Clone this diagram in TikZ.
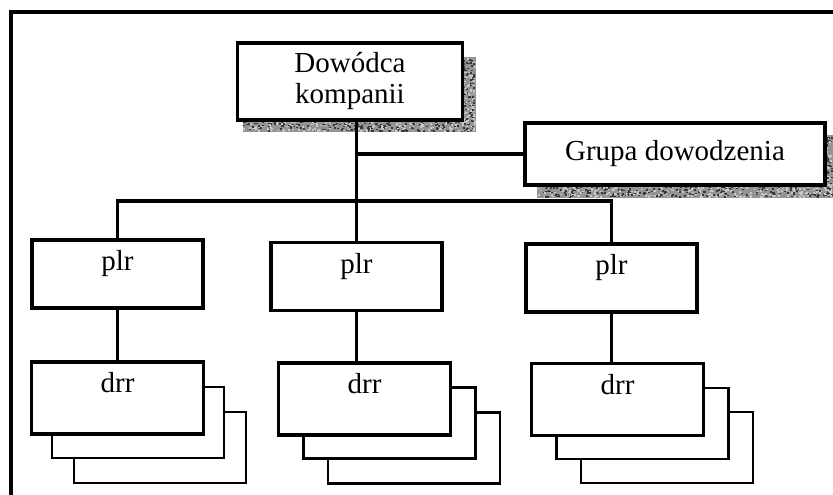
\documentclass[tikz,border=0pt]{standalone}
\usepackage{fontspec}
\setmainfont{Liberation Serif}

% random grey specks that give the drop shadows their grainy look
\newcommand\shadespecks[5]{%
  \foreach \k in {1,...,#5}{%
    \pgfmathsetmacro\sx{#1+rnd*(#3-#1-2)}%
    \pgfmathsetmacro\sy{#2+rnd*(#4-#2-1.5)}%
    \pgfmathsetmacro\sg{rnd<0.5 ? 22 : 78}%
    \fill[black!\sg] (\sx,\sy) rectangle ++(2,1.5);
  }}

\tikzset{
  frame/.style={line width=3.6pt, line join=miter},
  box/.style={draw, fill=white, line width=3.1pt, inner sep=0pt, line join=miter,
              font=\fontsize{29}{31}\selectfont},
  unitbox/.style={box, minimum width=171pt, minimum height=68pt,
                  text height=20pt, text depth=27pt},
  squadbox/.style={box, minimum width=172pt, minimum height=72pt,
                   text height=20pt, text depth=31pt},
  backbox/.style={draw, fill=white, line width=2.5pt, inner sep=0pt,
                  minimum width=172pt, minimum height=71pt},
  link/.style={line width=3.4pt, line join=miter},
  shadowfill/.style={fill=black!42},
}

\begin{document}
\begin{tikzpicture}[x=1pt, y=-1pt]
\useasboundingbox (0,0) rectangle (833,495);
\pgfmathsetseed{17}

% outer frame (top and left edges)
\draw[frame] (11,495) -- (11,12) -- (833,12);

% drop shadows of the two upper boxes
\fill[shadowfill] (462,57) rectangle (476,132);
\fill[shadowfill] (243,120) rectangle (476,132);
\shadespecks{462}{57}{476}{132}{150}
\shadespecks{243}{120}{476}{132}{380}
\fill[shadowfill] (825,135) rectangle (833,198);
\fill[shadowfill] (537,185) rectangle (833,198);
\shadespecks{825}{135}{833}{198}{80}
\shadespecks{537}{185}{833}{198}{520}

% command level
\node[box, minimum width=225pt, minimum height=77pt, align=center]
  (cmd) at (350,81.5) {Dowódca\\kompanii};
\node[box, minimum width=300pt, minimum height=62pt]
  (grp) at (675,154) {Grupa dowodzenia};

% platoons
\node[unitbox] (plrA) at (117.5,274) {plr};
\node[unitbox] (plrB) at (356.5,276.5) {plr};
\node[unitbox] (plrC) at (611.5,278) {plr};

% squads: two stacked sheets behind each front box
\node[backbox] (drrA3) at (160,447.5) {};
\node[backbox] (drrA2) at (138,422.5) {};
\node[squadbox] (drrA) at (117.5,398) {drr};

\node[backbox] (drrB3) at (414,448) {};
\node[backbox] (drrB2) at (389.5,423) {};
\node[squadbox] (drrB) at (364.5,399) {drr};

\node[backbox] (drrC3) at (667,447.5) {};
\node[backbox] (drrC2) at (642.5,423.5) {};
\node[squadbox] (drrC) at (617.5,399.5) {drr};

% connectors
\coordinate (bus) at (356.5,201);
\draw[link] (cmd.south -| plrB.north) -- (plrB.north);
\draw[link] (grp.west -| plrB.north) -- (grp.west);
\draw[link] (plrA.north) |- (bus) -| (plrC.north);
\draw[link] (plrA.south) -- (plrA.south |- drrA.north);
\draw[link] (plrB.south) -- (plrB.south |- drrB.north);
\draw[link] (plrC.south) -- (plrC.south |- drrC.north);
\end{tikzpicture}
\end{document}
